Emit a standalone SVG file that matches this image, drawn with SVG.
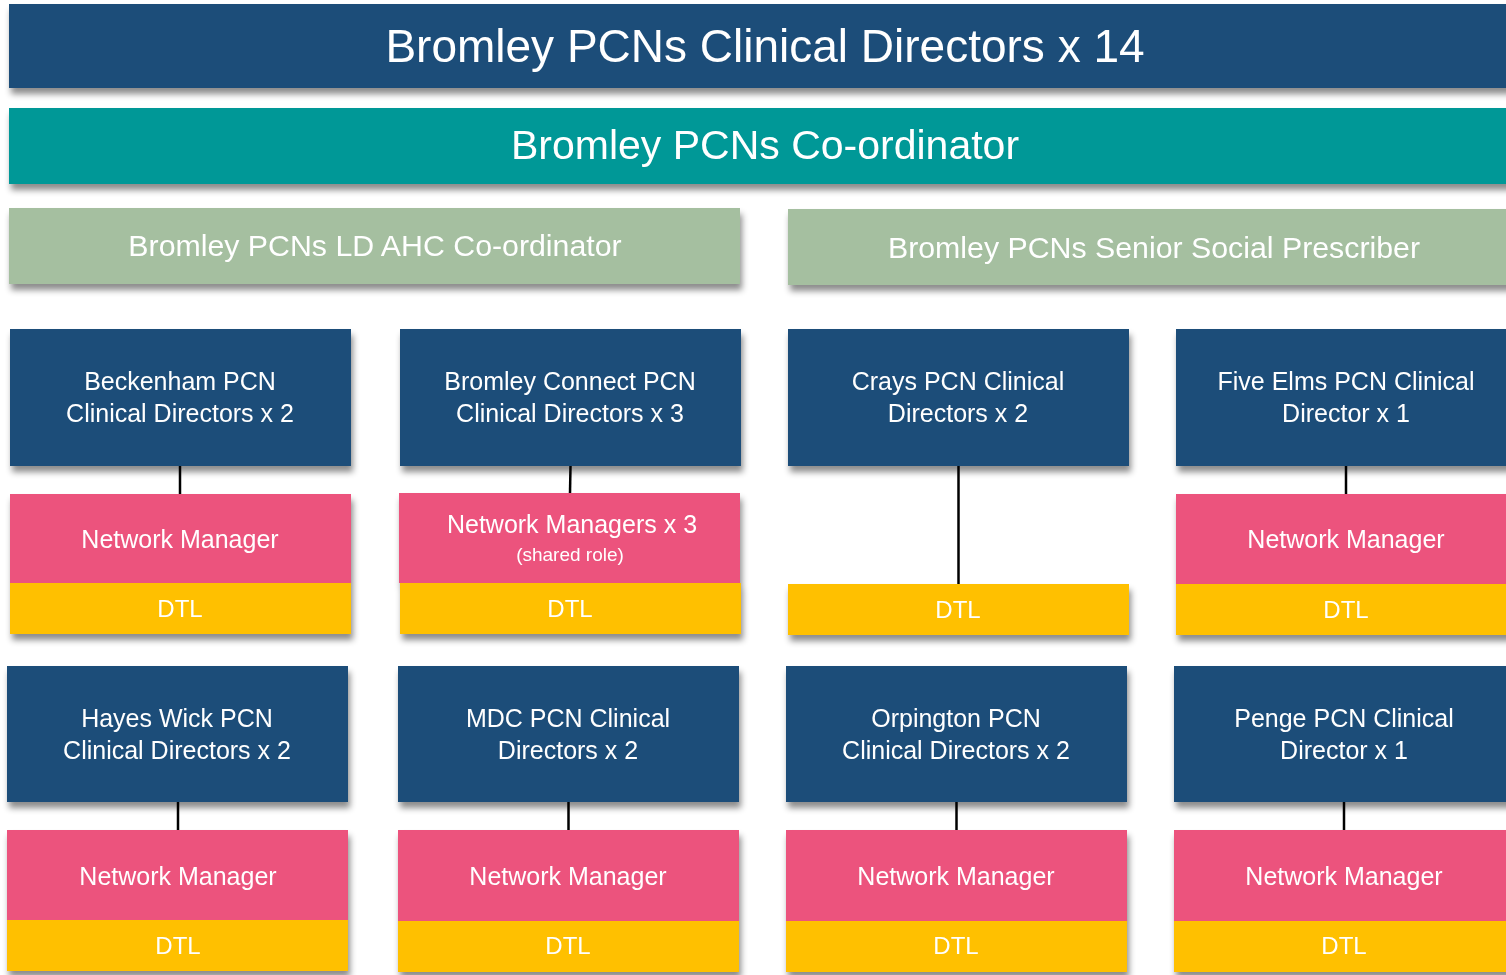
<svg xmlns="http://www.w3.org/2000/svg" width="1506" height="975" viewBox="0 0 1506 975">
  <defs>
    <filter id="sh" x="-5%" y="-20%" width="110%" height="150%">
      <feDropShadow dx="2" dy="6" stdDeviation="3" flood-color="#000" flood-opacity="0.45"/>
    </filter>
    <style>
      text { font-family: "Liberation Sans", Arial, sans-serif; fill: #ffffff; text-anchor: middle; }
      .cd { fill: #1F4E79; }
      .teal { fill: #009897; }
      .sage { fill: #A5BFA0; }
      .nm { fill: #EC527D; }
      .dtl { fill: #FFC000; }
      .t1 { font-size: 46px; }
      .t2 { font-size: 41px; }
      .t3 { font-size: 30.3px; }
      .tb { font-size: 25px; }
      .td { font-size: 24px; }
      .ts { font-size: 19px; }
      .con { stroke: #000; stroke-width: 2.5; fill: none; }
    </style>
  </defs>
  <rect width="1506" height="975" fill="#ffffff"/>

  <g id="clinical-directors" filter="url(#sh)">
    <rect class="cd" x="9" y="4" width="1510" height="84"/>
    <text class="t1" x="765" y="62">Bromley PCNs Clinical Directors x 14</text>
  </g>
  <g id="coordinator" filter="url(#sh)">
    <rect class="teal" x="9" y="108" width="1510" height="76"/>
    <text class="t2" x="765" y="159">Bromley PCNs Co-ordinator</text>
  </g>
  <g id="ld-ahc" filter="url(#sh)">
    <rect class="sage" x="9" y="208" width="731" height="76"/>
    <text class="t3" x="375" y="256">Bromley PCNs LD AHC Co-ordinator</text>
  </g>
  <g id="social-prescriber" filter="url(#sh)">
    <rect class="sage" x="788" y="209" width="731" height="76"/>
    <text class="t3" x="1154" y="258">Bromley PCNs Senior Social Prescriber</text>
  </g>

  <!-- Row 1 -->
  <g id="beckenham" filter="url(#sh)">
    <rect class="cd" x="10" y="329" width="341" height="137"/>
    <text class="tb" x="180" y="390">Beckenham PCN</text>
    <text class="tb" x="180" y="422">Clinical Directors x 2</text>
  </g>
  <g id="beckenham-staff" filter="url(#sh)">
    <rect class="nm" x="10" y="494" width="341" height="89"/>
    <rect class="dtl" x="10" y="583" width="341" height="51"/>
    <text class="tb" x="180" y="548">Network Manager</text>
    <text class="td" x="180" y="617">DTL</text>
  </g>

  <g id="bromley-connect" filter="url(#sh)">
    <rect class="cd" x="400" y="329" width="341" height="137"/>
    <text class="tb" x="570" y="390">Bromley Connect PCN</text>
    <text class="tb" x="570" y="422">Clinical Directors x 3</text>
  </g>
  <g id="bromley-connect-staff" filter="url(#sh)">
    <rect class="nm" x="399" y="493" width="341" height="90"/>
    <rect class="dtl" x="400" y="583" width="341" height="51"/>
    <text class="tb" x="572" y="533">Network Managers x 3</text>
    <text class="ts" x="570" y="561">(shared role)</text>
    <text class="td" x="570" y="617">DTL</text>
  </g>

  <g id="crays" filter="url(#sh)">
    <rect class="cd" x="788" y="329" width="341" height="137"/>
    <text class="tb" x="958" y="390">Crays PCN Clinical</text>
    <text class="tb" x="958" y="422">Directors x 2</text>
  </g>
  <g id="crays-staff" filter="url(#sh)">
    <rect class="dtl" x="788" y="584" width="341" height="51"/>
    <text class="td" x="958" y="618">DTL</text>
  </g>

  <g id="five-elms" filter="url(#sh)">
    <rect class="cd" x="1176" y="329" width="340" height="137"/>
    <text class="tb" x="1346" y="390">Five Elms PCN Clinical</text>
    <text class="tb" x="1346" y="422">Director x 1</text>
  </g>
  <g id="five-elms-staff" filter="url(#sh)">
    <rect class="nm" x="1176" y="494" width="340" height="90"/>
    <rect class="dtl" x="1176" y="584" width="340" height="51"/>
    <text class="tb" x="1346" y="548">Network Manager</text>
    <text class="td" x="1346" y="618">DTL</text>
  </g>

  <!-- Row 2 -->
  <g id="hayes-wick" filter="url(#sh)">
    <rect class="cd" x="7" y="666" width="341" height="136"/>
    <text class="tb" x="177" y="727">Hayes Wick PCN</text>
    <text class="tb" x="177" y="759">Clinical Directors x 2</text>
  </g>
  <g id="hayes-wick-staff" filter="url(#sh)">
    <rect class="nm" x="7" y="830" width="341" height="90"/>
    <rect class="dtl" x="7" y="920" width="341" height="51"/>
    <text class="tb" x="178" y="885">Network Manager</text>
    <text class="td" x="178" y="954">DTL</text>
  </g>

  <g id="mdc" filter="url(#sh)">
    <rect class="cd" x="398" y="666" width="341" height="136"/>
    <text class="tb" x="568" y="727">MDC PCN Clinical</text>
    <text class="tb" x="568" y="759">Directors x 2</text>
  </g>
  <g id="mdc-staff" filter="url(#sh)">
    <rect class="nm" x="398" y="830" width="341" height="91"/>
    <rect class="dtl" x="398" y="921" width="341" height="51"/>
    <text class="tb" x="568" y="885">Network Manager</text>
    <text class="td" x="568" y="954">DTL</text>
  </g>

  <g id="orpington" filter="url(#sh)">
    <rect class="cd" x="786" y="666" width="341" height="136"/>
    <text class="tb" x="956" y="727">Orpington PCN</text>
    <text class="tb" x="956" y="759">Clinical Directors x 2</text>
  </g>
  <g id="orpington-staff" filter="url(#sh)">
    <rect class="nm" x="786" y="830" width="341" height="91"/>
    <rect class="dtl" x="786" y="921" width="341" height="51"/>
    <text class="tb" x="956" y="885">Network Manager</text>
    <text class="td" x="956" y="954">DTL</text>
  </g>

  <g id="penge" filter="url(#sh)">
    <rect class="cd" x="1174" y="666" width="340" height="136"/>
    <text class="tb" x="1344" y="727">Penge PCN Clinical</text>
    <text class="tb" x="1344" y="759">Director x 1</text>
  </g>
  <g id="penge-staff" filter="url(#sh)">
    <rect class="nm" x="1174" y="830" width="340" height="91"/>
    <rect class="dtl" x="1174" y="921" width="340" height="51"/>
    <text class="tb" x="1344" y="885">Network Manager</text>
    <text class="td" x="1344" y="954">DTL</text>
  </g>

  <g id="connectors">
    <line class="con" x1="180" y1="466" x2="180" y2="494"/>
    <line class="con" x1="570.5" y1="466" x2="570" y2="493"/>
    <line class="con" x1="958.5" y1="466" x2="958.5" y2="584"/>
    <line class="con" x1="1346" y1="466" x2="1346" y2="494"/>
    <line class="con" x1="178" y1="802" x2="178" y2="830"/>
    <line class="con" x1="568.5" y1="802" x2="568.5" y2="830"/>
    <line class="con" x1="956.5" y1="802" x2="956.5" y2="830"/>
    <line class="con" x1="1344" y1="802" x2="1344" y2="830"/>
  </g>
</svg>
